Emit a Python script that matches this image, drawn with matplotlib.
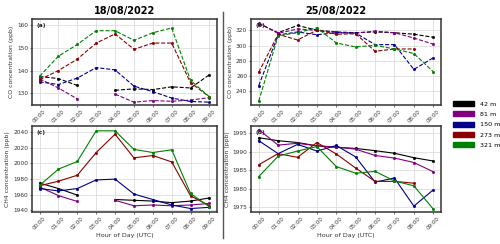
import numpy as np
import matplotlib
matplotlib.use("Agg")
import matplotlib.pyplot as plt
from matplotlib.patches import Patch

nan = np.nan
hours = ["00:00", "01:00", "02:00", "03:00", "04:00", "05:00", "06:00", "07:00", "08:00", "09:00"]
heights = ["42 m", "81 m", "150 m", "273 m", "321 m"]
colors = ["black", "purple", "darkblue", "darkred", "green"]

# 18/08/2022 CO (ppb)
co_18_42 = [137.4, 136.5, 133.5, nan, 131.4, 132.0, 131.7, 132.9, 132.4, 138.2]
co_18_81 = [136.4, 132.4, 127.6, nan, 129.7, 126.2, 126.9, 126.6, 127.1, 128.2]
co_18_150 = [135.1, 133.9, 136.7, 141.3, 140.3, 133.2, 130.8, 128.0, 126.5, 126.2]
co_18_273 = [136.0, 140.0, 145.0, 152.0, 156.0, 149.3, 152.0, 152.0, 134.7, 128.5]
co_18_321 = [137.5, 146.3, 151.4, 157.4, 157.4, 153.2, 156.5, 158.6, 135.7, 128.5]

# 25/08/2022 CO (ppb)
co_25_42 = [329, 317, 326.5, 320.4, 318, 317, 318, 317, 315, 311]
co_25_81 = [330, 316, 322, 320, 317.4, 316.5, 319, 317, 310, 302]
co_25_150 = [247.4, 314, 318, 314.3, 317, 316.5, 301.3, 301.3, 268.7, 284]
co_25_273 = [265, 315, 307.4, 320.4, 315, 315.6, 292.6, 295.6, 295.6, nan]
co_25_321 = [227, 313, 317, 323.5, 303.5, 298.3, 300.4, 295.6, 289.6, 265.7]

# 18/08/2022 CH4 (ppb)
ch4_18_42 = [1975, 1968, 1959.6, nan, 1954, 1953, 1952, 1950, 1952, 1956]
ch4_18_81 = [1970, 1959, 1951.5, nan, 1953, 1946, 1947, 1946, 1947, 1949]
ch4_18_150 = [1968, 1965, 1968, 1979, 1980, 1961, 1954, 1947, 1942.5, 1944]
ch4_18_273 = [1971.5, 1977.4, 1985, 2014, 2037.4, 2007.2, 2010.2, 2002, 1958.7, 1946]
ch4_18_321 = [1972, 1992.8, 2002.6, 2041.7, 2041.7, 2018, 2014, 2017.5, 1961.7, 1944.7]

# 25/08/2022 CH4 (ppb)
ch4_25_42 = [1993.8, 1993.0, 1992.5, 1991.6, 1991.2, 1990.9, 1990.3, 1989.6, 1988.4, 1987.5]
ch4_25_81 = [1996.0, 1991.8, 1992.3, 1991.6, 1991.3, 1990.7, 1989.0, 1988.3, 1987.1, 1984.6]
ch4_25_150 = [1993.0, 1989.5, 1992.0, 1990.2, 1991.7, 1988.6, 1981.8, 1982.9, 1975.3, 1979.7]
ch4_25_273 = [1986.5, 1989.5, 1988.5, 1992.5, 1989.4, 1985.6, 1982.0, 1982.0, 1981.5, nan]
ch4_25_321 = [1983.3, 1988.8, 1990.2, 1991.4, 1986.0, 1984.2, 1984.7, 1982.1, 1980.8, 1974.5]

panels = [
    ("(a)", [co_18_42, co_18_81, co_18_150, co_18_273, co_18_321], "--", "CO concentration (ppb)", (125, 162.5), [130, 140, 150, 160]),
    ("(b)", [co_25_42, co_25_81, co_25_150, co_25_273, co_25_321], "--", "CO concentration (ppb)", (222, 335), [240, 260, 280, 300, 320]),
    ("(c)", [ch4_18_42, ch4_18_81, ch4_18_150, ch4_18_273, ch4_18_321], "-", "CH4 concentration (ppb)", (1938, 2048), [1940, 1960, 1980, 2000, 2020, 2040]),
    ("(d)", [ch4_25_42, ch4_25_81, ch4_25_150, ch4_25_273, ch4_25_321], "-", "CH4 concentration (ppb)", (1973.7, 1997), [1975, 1980, 1985, 1990, 1995]),
]

fig = plt.figure(figsize=(5.0, 2.44), dpi=100)
rects = [
    [0.064, 0.570, 0.370, 0.352],
    [0.502, 0.570, 0.380, 0.352],
    [0.064, 0.131, 0.370, 0.353],
    [0.502, 0.131, 0.380, 0.353],
]
x = np.arange(len(hours))
for i, (lab, series, ls, ylab, ylim, yt) in enumerate(panels):
    ax = fig.add_axes(rects[i])
    ax.grid(True, color="#dddddd", linewidth=0.6)
    ax.set_axisbelow(True)
    for s, c in zip(series, colors):
        ax.plot(x, s, ls, color=c, linewidth=0.8, marker="s", markersize=1.0)
    ax.set_ylim(*ylim)
    ax.set_yticks(yt)
    ax.set_xlim(-0.4, 9.4)
    ax.set_xticks(x)
    ax.set_xticklabels(hours, rotation=45, fontsize=4, color="#333333")
    ax.tick_params(axis="y", labelsize=4.2, colors="#333333", length=1.5, width=0.5, pad=1.2)
    ax.tick_params(axis="x", length=1.5, width=0.5, pad=1.2, colors="#333333")
    ax.set_ylabel(ylab, fontsize=4.4, color="#333333", labelpad=2)
    for sp in ax.spines.values():
        sp.set_color("#333333")
        sp.set_linewidth(1.1)
    ax.text(0.025, 0.95, lab, transform=ax.transAxes, fontsize=4.2, fontweight="bold",
            va="top", ha="left", color="#222222")
    if i >= 2:
        ax.set_xlabel("Hour of Day (UTC)", fontsize=4.6, color="#333333", labelpad=1.5)

fig.text(0.25, 0.955, "18/08/2022", ha="center", va="center", fontsize=7, fontweight="bold")
fig.text(0.672, 0.955, "25/08/2022", ha="center", va="center", fontsize=7, fontweight="bold")

fig.add_artist(plt.Line2D([0.446, 0.446], [0.025, 0.95], transform=fig.transFigure,
                          color="#555555", linewidth=1.0))

handles = [Patch(facecolor=c, edgecolor=c) for c in colors]
fig.legend(handles, heights, loc="center left", bbox_to_anchor=(0.895, 0.49), frameon=False,
           fontsize=4.6, handlelength=3.2, handleheight=0.9, labelspacing=0.7, handletextpad=1.0)

fig.savefig("out.png", dpi=100)
